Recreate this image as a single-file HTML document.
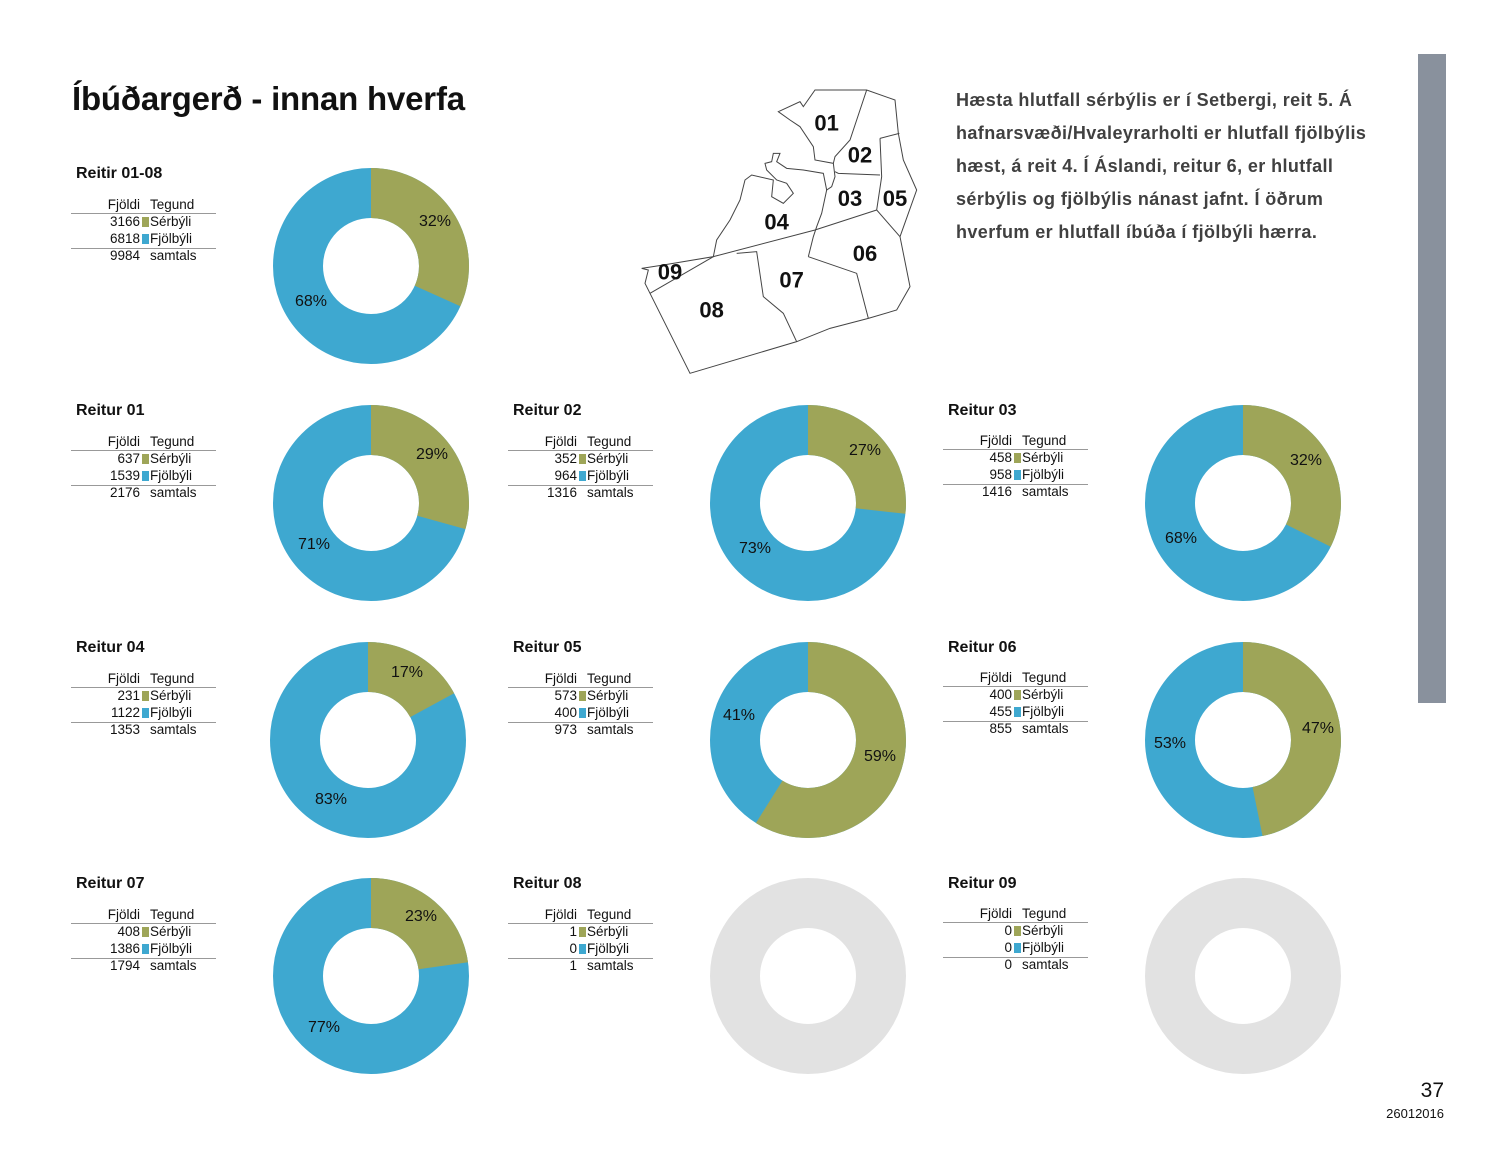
<!DOCTYPE html>
<html><head><meta charset="utf-8">
<style>
body{margin:0;width:1500px;height:1160px;background:#fff;position:relative;overflow:hidden;font-family:"Liberation Sans",sans-serif;color:#111}
.a{position:absolute}
.p{position:absolute;width:150px;height:100px}
.p .t{position:absolute;left:5px;top:-10px;font-weight:bold;font-size:16px;line-height:20px;white-space:nowrap}
.p .r{position:absolute;left:0;width:145px;font-size:13.5px;line-height:16px;height:16px}
.p .n{position:absolute;right:76px;text-align:right}
.p .s{position:absolute;left:71px;top:3px;width:7px;height:10px}
.p .l{position:absolute;left:79px}
.p .h{position:absolute;left:0;width:145px;height:1px;background:#999}
.pc{position:absolute;font-size:16px;transform:translate(-50%,-50%);white-space:nowrap;color:#111}
svg.d{position:absolute;width:200px;height:200px}
</style></head><body>
<div class="a" style="left:72px;top:80px;font-size:33px;font-weight:bold;white-space:nowrap;letter-spacing:-0.2px">Íbúðargerð - innan hverfa</div>
<div class="a" style="left:956px;top:84px;font-size:18px;letter-spacing:0.4px;font-weight:bold;line-height:33px;color:#404040;white-space:nowrap">Hæsta hlutfall sérbýlis er í Setbergi, reit 5. Á<br>hafnarsvæði/Hvaleyrarholti er hlutfall fjölbýlis<br>hæst, á reit 4. Í Áslandi, reitur 6, er hlutfall<br>sérbýlis og fjölbýlis nánast jafnt. Í öðrum<br>hverfum er hlutfall íbúða í fjölbýli hærra.</div>
<div class="a" style="left:1418px;top:54px;width:28px;height:649px;background:#89919d"></div>
<div class="a" style="left:1400px;top:1079px;width:44px;text-align:right;font-size:21px">37</div>
<div class="a" style="left:1360px;top:1106px;width:84px;text-align:right;font-size:13px">26012016</div>

<svg class="a" style="left:630px;top:80px" width="300" height="300" viewBox="0 0 900 900">
<g fill="none" stroke="#444" stroke-width="3">
<path d="M445,95 L510,65 L520,80 L555,30 L710,30 L795,60 L805,160 L820,240 L860,330 L810,470 L840,620 L800,690 L715,715 L600,745 L500,785 L180,880 L60,640 L45,610 L55,570 L35,565 L100,555 L250,530 L260,480 L300,420 L330,360 L345,300 L365,285 L430,300 L425,350 L460,370 L490,340 L470,310 L440,300 L410,270 L405,250 L425,245 L430,220 L450,220 L440,245 L470,265 L520,270 L580,280 L590,330 L605,320 L615,290 L610,250 L555,240 L550,200 L510,140 L480,120 L445,95 Z"/>
<path d="M710,30 L680,120 L660,180 L615,230 L610,250"/>
<path d="M750,175 L808,160"/>
<path d="M750,175 L755,290 L740,390 L810,470"/>
<path d="M615,275 L625,280 L750,285"/>
<path d="M590,330 L575,400 L560,440 L550,470 L535,530"/>
<path d="M250,530 L555,450 L740,390"/>
<path d="M535,530 L680,580 L715,715"/>
<path d="M320,520 L380,515 L400,650 L460,700 L500,785"/>
<path d="M60,640 L250,530"/>
</g>
<g font-family="Liberation Sans" font-weight="bold" font-size="66" text-anchor="middle" fill="#111">
<text x="590" y="152">01</text><text x="690" y="248">02</text><text x="660" y="378">03</text><text x="795" y="378">05</text><text x="440" y="448">04</text><text x="705" y="543">06</text><text x="485" y="623">07</text><text x="245" y="713">08</text><text x="120" y="598">09</text>
</g>
</svg>

<svg class="d" style="left:271px;top:166px" viewBox="0 0 200 200"><g transform="rotate(-90 100 100)"><circle cx="100" cy="100" r="73" fill="none" stroke="#3ea8d0" stroke-width="50"/><circle cx="100" cy="100" r="73" fill="none" stroke="#9ea558" stroke-width="50" stroke-dasharray="145.5 459"/></g></svg>
<svg class="d" style="left:271px;top:403px" viewBox="0 0 200 200"><g transform="rotate(-90 100 100)"><circle cx="100" cy="100" r="73" fill="none" stroke="#3ea8d0" stroke-width="50"/><circle cx="100" cy="100" r="73" fill="none" stroke="#9ea558" stroke-width="50" stroke-dasharray="134.3 459"/></g></svg>
<svg class="d" style="left:708px;top:403px" viewBox="0 0 200 200"><g transform="rotate(-90 100 100)"><circle cx="100" cy="100" r="73" fill="none" stroke="#3ea8d0" stroke-width="50"/><circle cx="100" cy="100" r="73" fill="none" stroke="#9ea558" stroke-width="50" stroke-dasharray="122.7 459"/></g></svg>
<svg class="d" style="left:1143px;top:403px" viewBox="0 0 200 200"><g transform="rotate(-90 100 100)"><circle cx="100" cy="100" r="73" fill="none" stroke="#3ea8d0" stroke-width="50"/><circle cx="100" cy="100" r="73" fill="none" stroke="#9ea558" stroke-width="50" stroke-dasharray="148.4 459"/></g></svg>
<svg class="d" style="left:268px;top:640px" viewBox="0 0 200 200"><g transform="rotate(-90 100 100)"><circle cx="100" cy="100" r="73" fill="none" stroke="#3ea8d0" stroke-width="50"/><circle cx="100" cy="100" r="73" fill="none" stroke="#9ea558" stroke-width="50" stroke-dasharray="78.3 459"/></g></svg>
<svg class="d" style="left:708px;top:640px" viewBox="0 0 200 200"><g transform="rotate(-90 100 100)"><circle cx="100" cy="100" r="73" fill="none" stroke="#3ea8d0" stroke-width="50"/><circle cx="100" cy="100" r="73" fill="none" stroke="#9ea558" stroke-width="50" stroke-dasharray="270.1 459"/></g></svg>
<svg class="d" style="left:1143px;top:640px" viewBox="0 0 200 200"><g transform="rotate(-90 100 100)"><circle cx="100" cy="100" r="73" fill="none" stroke="#3ea8d0" stroke-width="50"/><circle cx="100" cy="100" r="73" fill="none" stroke="#9ea558" stroke-width="50" stroke-dasharray="214.6 459"/></g></svg>
<svg class="d" style="left:271px;top:876px" viewBox="0 0 200 200"><g transform="rotate(-90 100 100)"><circle cx="100" cy="100" r="73" fill="none" stroke="#3ea8d0" stroke-width="50"/><circle cx="100" cy="100" r="73" fill="none" stroke="#9ea558" stroke-width="50" stroke-dasharray="104.3 459"/></g></svg>
<svg class="d" style="left:708px;top:876px" viewBox="0 0 200 200"><circle cx="100" cy="100" r="73" fill="none" stroke="#e2e2e2" stroke-width="50"/></svg>
<svg class="d" style="left:1143px;top:876px" viewBox="0 0 200 200"><circle cx="100" cy="100" r="73" fill="none" stroke="#e2e2e2" stroke-width="50"/></svg>

<div class="pc" style="left:435px;top:222px">32%</div><div class="pc" style="left:311px;top:302px">68%</div>
<div class="pc" style="left:432px;top:455px">29%</div><div class="pc" style="left:314px;top:545px">71%</div>
<div class="pc" style="left:865px;top:451px">27%</div><div class="pc" style="left:755px;top:549px">73%</div>
<div class="pc" style="left:1306px;top:461px">32%</div><div class="pc" style="left:1181px;top:539px">68%</div>
<div class="pc" style="left:407px;top:673px">17%</div><div class="pc" style="left:331px;top:800px">83%</div>
<div class="pc" style="left:739px;top:716px">41%</div><div class="pc" style="left:880px;top:757px">59%</div>
<div class="pc" style="left:1318px;top:729px">47%</div><div class="pc" style="left:1170px;top:744px">53%</div>
<div class="pc" style="left:421px;top:917px">23%</div><div class="pc" style="left:324px;top:1028px">77%</div>

<div class="p" style="left:71px;top:174px"><div class="t">Reitir 01-08</div>
<div class="r" style="top:23px"><span class="n">Fjöldi</span><span class="l">Tegund</span></div><div class="h" style="top:39px"></div>
<div class="r" style="top:40px"><span class="n">3166</span><span class="s" style="background:#9ea558"></span><span class="l">Sérbýli</span></div>
<div class="r" style="top:57px"><span class="n">6818</span><span class="s" style="background:#3ea8d0"></span><span class="l">Fjölbýli</span></div><div class="h" style="top:74px"></div>
<div class="r" style="top:74px"><span class="n">9984</span><span class="l">samtals</span></div></div>

<div class="p" style="left:71px;top:411px"><div class="t">Reitur 01</div>
<div class="r" style="top:23px"><span class="n">Fjöldi</span><span class="l">Tegund</span></div><div class="h" style="top:39px"></div>
<div class="r" style="top:40px"><span class="n">637</span><span class="s" style="background:#9ea558"></span><span class="l">Sérbýli</span></div>
<div class="r" style="top:57px"><span class="n">1539</span><span class="s" style="background:#3ea8d0"></span><span class="l">Fjölbýli</span></div><div class="h" style="top:74px"></div>
<div class="r" style="top:74px"><span class="n">2176</span><span class="l">samtals</span></div></div>

<div class="p" style="left:508px;top:411px"><div class="t">Reitur 02</div>
<div class="r" style="top:23px"><span class="n">Fjöldi</span><span class="l">Tegund</span></div><div class="h" style="top:39px"></div>
<div class="r" style="top:40px"><span class="n">352</span><span class="s" style="background:#9ea558"></span><span class="l">Sérbýli</span></div>
<div class="r" style="top:57px"><span class="n">964</span><span class="s" style="background:#3ea8d0"></span><span class="l">Fjölbýli</span></div><div class="h" style="top:74px"></div>
<div class="r" style="top:74px"><span class="n">1316</span><span class="l">samtals</span></div></div>

<div class="p" style="left:943px;top:411px"><div class="t">Reitur 03</div>
<div class="r" style="top:22px"><span class="n">Fjöldi</span><span class="l">Tegund</span></div><div class="h" style="top:38px"></div>
<div class="r" style="top:39px"><span class="n">458</span><span class="s" style="background:#9ea558"></span><span class="l">Sérbýli</span></div>
<div class="r" style="top:56px"><span class="n">958</span><span class="s" style="background:#3ea8d0"></span><span class="l">Fjölbýli</span></div><div class="h" style="top:73px"></div>
<div class="r" style="top:73px"><span class="n">1416</span><span class="l">samtals</span></div></div>

<div class="p" style="left:71px;top:648px"><div class="t">Reitur 04</div>
<div class="r" style="top:23px"><span class="n">Fjöldi</span><span class="l">Tegund</span></div><div class="h" style="top:39px"></div>
<div class="r" style="top:40px"><span class="n">231</span><span class="s" style="background:#9ea558"></span><span class="l">Sérbýli</span></div>
<div class="r" style="top:57px"><span class="n">1122</span><span class="s" style="background:#3ea8d0"></span><span class="l">Fjölbýli</span></div><div class="h" style="top:74px"></div>
<div class="r" style="top:74px"><span class="n">1353</span><span class="l">samtals</span></div></div>

<div class="p" style="left:508px;top:648px"><div class="t">Reitur 05</div>
<div class="r" style="top:23px"><span class="n">Fjöldi</span><span class="l">Tegund</span></div><div class="h" style="top:39px"></div>
<div class="r" style="top:40px"><span class="n">573</span><span class="s" style="background:#9ea558"></span><span class="l">Sérbýli</span></div>
<div class="r" style="top:57px"><span class="n">400</span><span class="s" style="background:#3ea8d0"></span><span class="l">Fjölbýli</span></div><div class="h" style="top:74px"></div>
<div class="r" style="top:74px"><span class="n">973</span><span class="l">samtals</span></div></div>

<div class="p" style="left:943px;top:648px"><div class="t">Reitur 06</div>
<div class="r" style="top:22px"><span class="n">Fjöldi</span><span class="l">Tegund</span></div><div class="h" style="top:38px"></div>
<div class="r" style="top:39px"><span class="n">400</span><span class="s" style="background:#9ea558"></span><span class="l">Sérbýli</span></div>
<div class="r" style="top:56px"><span class="n">455</span><span class="s" style="background:#3ea8d0"></span><span class="l">Fjölbýli</span></div><div class="h" style="top:73px"></div>
<div class="r" style="top:73px"><span class="n">855</span><span class="l">samtals</span></div></div>

<div class="p" style="left:71px;top:884px"><div class="t">Reitur 07</div>
<div class="r" style="top:23px"><span class="n">Fjöldi</span><span class="l">Tegund</span></div><div class="h" style="top:39px"></div>
<div class="r" style="top:40px"><span class="n">408</span><span class="s" style="background:#9ea558"></span><span class="l">Sérbýli</span></div>
<div class="r" style="top:57px"><span class="n">1386</span><span class="s" style="background:#3ea8d0"></span><span class="l">Fjölbýli</span></div><div class="h" style="top:74px"></div>
<div class="r" style="top:74px"><span class="n">1794</span><span class="l">samtals</span></div></div>

<div class="p" style="left:508px;top:884px"><div class="t">Reitur 08</div>
<div class="r" style="top:23px"><span class="n">Fjöldi</span><span class="l">Tegund</span></div><div class="h" style="top:39px"></div>
<div class="r" style="top:40px"><span class="n">1</span><span class="s" style="background:#9ea558"></span><span class="l">Sérbýli</span></div>
<div class="r" style="top:57px"><span class="n">0</span><span class="s" style="background:#3ea8d0"></span><span class="l">Fjölbýli</span></div><div class="h" style="top:74px"></div>
<div class="r" style="top:74px"><span class="n">1</span><span class="l">samtals</span></div></div>

<div class="p" style="left:943px;top:884px"><div class="t">Reitur 09</div>
<div class="r" style="top:22px"><span class="n">Fjöldi</span><span class="l">Tegund</span></div><div class="h" style="top:38px"></div>
<div class="r" style="top:39px"><span class="n">0</span><span class="s" style="background:#9ea558"></span><span class="l">Sérbýli</span></div>
<div class="r" style="top:56px"><span class="n">0</span><span class="s" style="background:#3ea8d0"></span><span class="l">Fjölbýli</span></div><div class="h" style="top:73px"></div>
<div class="r" style="top:73px"><span class="n">0</span><span class="l">samtals</span></div></div>
</body></html>
